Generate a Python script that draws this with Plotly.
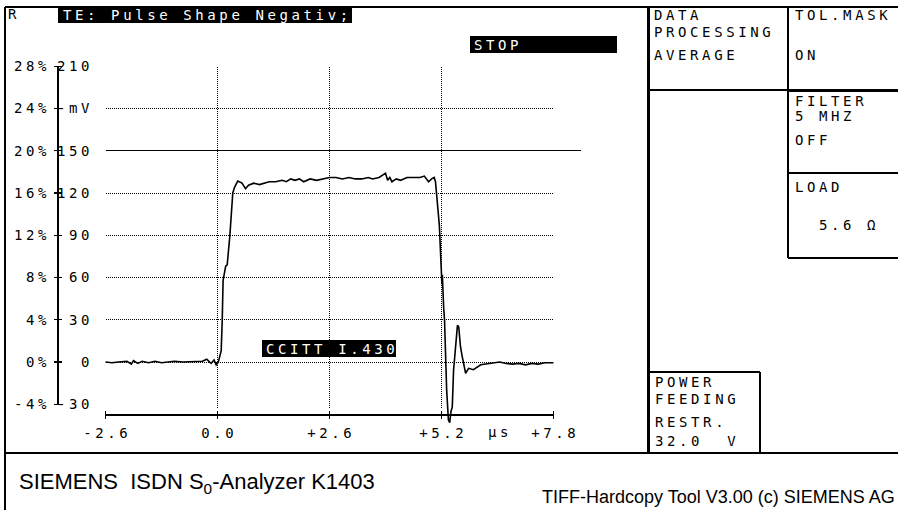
import plotly.graph_objects as go

# ---------------- data ----------------
t_us = [-2.6, -2.45, -2.3, -2.1, -2.0, -1.95, -1.85, -1.75, -1.6, -1.45, -1.3, -1.15,
        -1.0, -0.8, -0.6, -0.45, -0.35, -0.25, -0.15, -0.08, -0.03, 0.02, 0.086, 0.11,
        0.13, 0.19, 0.225, 0.285, 0.318, 0.355, 0.395, 0.47, 0.57, 0.65, 0.72, 0.84,
        0.975, 1.1, 1.2, 1.35, 1.5, 1.6, 1.7, 1.8, 1.9, 2.0, 2.15, 2.3, 2.45, 2.6,
        2.75, 2.9, 3.05, 3.2, 3.35, 3.5, 3.6, 3.75, 3.85, 3.9, 3.95, 4.0, 4.05, 4.15,
        4.25, 4.4, 4.55, 4.7, 4.8, 4.9, 4.97, 5.03, 5.06, 5.08, 5.11, 5.13, 5.15,
        5.20, 5.21, 5.22, 5.23, 5.24, 5.25, 5.27, 5.29, 5.32, 5.36, 5.39, 5.42, 5.45,
        5.48, 5.53, 5.57, 5.60, 5.64, 5.68, 5.72, 5.76, 5.83, 5.94, 6.11, 6.25, 6.4,
        6.55, 6.7, 6.85, 7.0, 7.15, 7.3, 7.45, 7.6, 7.7, 7.8]
v_mV = [0, -0.5, 0, 0.5, -1.5, 1, -1, 0.5, -0.5, 0.5, -0.5, 0,
        0.5, 0, 0, 0, 0.5, 2, -1, 1.5, -2, 0, 8, 30,
        58, 68, 69, 89, 102, 120, 124, 128.5, 127, 123, 125.5, 127,
        126, 127, 128, 128, 129, 128, 130, 129, 130, 128, 130, 129, 130, 131,
        131, 130, 131, 130, 130, 131, 130, 131, 133, 134, 129, 131, 128, 130,
        129, 131, 131, 131, 132, 128, 130, 131, 128, 120, 106, 104, 97,
        65, 55, 62, 45, 52, 39, 30, 7, -20, -41, -43, -35, -32,
        -6, 11, 26, 25, 11, 4, -2, -8, -4.5, -5.5, -2, -1.5, -1,
        0, -1, -1.5, -1, -2, -1, -1.5, -0.5, -0.5, -0.5]

X_TICKS = [-2.6, 0.0, 2.6, 5.2, 7.8]
X_LABELS = ["-2.6", "0.0", "+2.6", "+5.2", "+7.8"]
Y_TICKS = [210, 180, 150, 120, 90, 60, 30, 0, -30]
MV_LABELS = ["210", "-mV", "150", "120", "\u00a090", "\u00a060", "\u00a030", "\u00a0\u00a00", "-30"]
PCT_LABELS = ["28%", "24%", "20%", "16%", "12%", "8%", "4%", "0%", "-4%"]
GRID_X = [0.0, 2.6, 5.2]
GRID_Y_DOT = [180, 120, 90, 60, 30, 0]
MASK_LEVEL = [150]

# ---------------- layout helpers ----------------
W, H = 898, 510
PX_PER_US = 112 / 2.6
PX_PER_MV = 42.25 / 30
X0_PX, Y0_PX = 217.5, 362          # pixel of t=0, v=0
XR = [-X0_PX / PX_PER_US, (W - X0_PX) / PX_PER_US]
YR = [-(H - Y0_PX) / PX_PER_MV, Y0_PX / PX_PER_MV]

def px(x):
    return x / W

def py(y):
    return 1 - y / H

MONO = "DejaVu Sans Mono"
FS = 14

fig = go.Figure()
fig.add_trace(go.Scatter(x=t_us, y=v_mV, mode="lines",
                         line=dict(color="black", width=1.6),
                         hoverinfo="skip", showlegend=False))
# carrier for the percent axis (invisible)
fig.add_trace(go.Scatter(x=[X_TICKS[0]] * len(Y_TICKS), y=Y_TICKS, yaxis="y2",
                         mode="markers", marker=dict(opacity=0, size=1),
                         hoverinfo="skip", showlegend=False))

shapes = []
def line(x0, y0, x1, y1, w=1.5, xref="paper", yref="paper", dash="solid"):
    shapes.append(dict(type="line", x0=x0, y0=y0, x1=x1, y1=y1, xref=xref, yref=yref,
                       line=dict(color="black", width=w, dash=dash)))

def box(x0, y0, x1, y1):
    shapes.append(dict(type="rect", x0=px(x0), x1=px(x1), y0=py(y0), y1=py(y1),
                       xref="paper", yref="paper", fillcolor="black",
                       line=dict(width=0), layer="below"))

# gridlines
for g in GRID_X:
    line(g, Y_TICKS[-1] - 3, g, Y_TICKS[0], w=1, xref="x", yref="y", dash="1px,1px")
for g in GRID_Y_DOT:
    line(X_TICKS[0], g, X_TICKS[-1], g, w=1, xref="x", yref="y", dash="1px,1px")
for g in MASK_LEVEL:
    line(X_TICKS[0], g, 8.43, g, w=1.3, xref="x", yref="y")

# y axis line and ticks
YAX_PX = 58
line(px(YAX_PX), Y_TICKS[-1], px(YAX_PX), Y_TICKS[0], w=1.6, yref="y")
for v in Y_TICKS:
    line(px(YAX_PX - 4), v, px(YAX_PX + 4), v, w=1.3, yref="y")
# x axis line and ticks
XAX_PX = 415
line(X_TICKS[0], py(XAX_PX), X_TICKS[-1], py(XAX_PX), w=1.6, xref="x")
for t in X_TICKS:
    line(t, py(XAX_PX - 4), t, py(XAX_PX + 4), w=1.3, xref="x")

# frame
line(px(5), py(7), px(898), py(7), w=2)
line(px(5), py(7), px(5), py(510), w=1.5)
line(px(5), py(453), px(898), py(453), w=1.5)
line(px(648), py(7), px(648), py(453), w=3)
line(px(788), py(7), px(788), py(173), w=2.5)
line(px(788), py(173), px(788), py(258), w=1.5)
line(px(648), py(90), px(788), py(90), w=1.3)
line(px(788), py(90), px(898), py(90), w=3)
line(px(788), py(173), px(898), py(173), w=2.5)
line(px(788), py(258), px(898), py(258), w=1.3)
line(px(648), py(372), px(760), py(372), w=1.3)
line(px(760), py(372), px(760), py(453), w=1.3)

# black label boxes
box(58, 7, 352, 23)
box(470, 36, 617, 53)
box(262, 340, 396, 357)

annotations = []
def text(x, y, s, color="black", size=FS, family=MONO, xanchor="left"):
    annotations.append(dict(x=px(x), y=py(y), xref="paper", yref="paper", text=s,
                            showarrow=False, xanchor=xanchor, yanchor="middle",
                            font=dict(family=family, size=size, color=color)))

text(6, 14, "R")
text(61, 15, "TE: Pulse Shape Negativ;", color="white")
text(472, 45, "STOP", color="white")
text(264, 349, "CCITT I.430", color="white")
annotations.append(dict(x=6.48, y=py(432), xref="x", yref="paper", text="µs",
                        showarrow=False, xanchor="center", yanchor="middle",
                        font=dict(family=MONO, size=FS, color="black")))

text(652, 15, "DATA")
text(652, 32, "PROCESSING")
text(652, 55, "AVERAGE")
text(793, 15, "TOL.MASK")
text(793, 55, "ON")
text(793, 101, "FILTER")
text(793, 116, "5 MHZ")
text(793, 140, "OFF")
text(793, 187, "LOAD")
text(817, 225, "5.6 Ω")
text(653, 382, "POWER")
text(653, 399, "FEEDING")
text(653, 422, "RESTR.")
text(653, 441, "32.0\u00a0\u00a0V")

text(17, 483, "SIEMENS\u00a0\u00a0ISDN S<sub>0</sub>-Analyzer K1403",
     size=22, family="Liberation Sans Narrow, Liberation Sans, Arial")
text(897, 497, "TIFF-Hardcopy Tool V3.00 (c) SIEMENS AG",
     size=18, family="Liberation Sans Narrow, Liberation Sans, Arial", xanchor="right")

fig.update_layout(
    width=W, height=H, autosize=False,
    margin=dict(l=0, r=0, t=0, b=0),
    paper_bgcolor="white", plot_bgcolor="white",
    shapes=shapes, annotations=annotations,
    xaxis=dict(domain=[0, 1], range=XR, fixedrange=True, showgrid=False, zeroline=False,
               showline=False, anchor="free", position=py(XAX_PX),
               tickmode="array", tickvals=X_TICKS, ticktext=X_LABELS, ticks="",
               ticklabelstandoff=8, tickfont=dict(family=MONO, size=FS, color="black")),
    yaxis=dict(domain=[0, 1], range=YR, fixedrange=True, showgrid=False, zeroline=False,
               showline=False, anchor="free", position=px(YAX_PX), side="left",
               tickmode="array", tickvals=Y_TICKS, ticktext=MV_LABELS, ticks="",
               ticklabelposition="inside", ticklabelstandoff=-5,
               tickfont=dict(family=MONO, size=FS, color="black")),
    yaxis2=dict(domain=[0, 1], range=YR, fixedrange=True, showgrid=False, zeroline=False,
                showline=False, anchor="free", position=px(YAX_PX), side="left",
                overlaying="y", tickmode="array", tickvals=Y_TICKS, ticktext=PCT_LABELS,
                ticks="", ticklabelposition="outside", ticklabelstandoff=12,
                tickfont=dict(family=MONO, size=FS, color="black")),
)

post = """
document.body.style.margin = '0';
document.body.style.padding = '0';
var gd = document.getElementById('{plot_id}');
var S = 3.6;
gd.querySelectorAll('text').forEach(function(t){
  var ff = t.style.fontFamily || '';
  if (ff.indexOf('Mono') < 0) return;
  var b0 = t.getBBox();
  t.style.letterSpacing = S + 'px';
  var b1 = t.getBBox();
  var mode = t.closest('.annotation') ? 'start' : (t.getAttribute('text-anchor') || 'start');
  var dx;
  if (mode === 'start') dx = b0.x - b1.x;
  else if (mode === 'end') dx = (b0.x + b0.width) - (b1.x + b1.width) + S;
  else dx = (b0.x + b0.width / 2) - (b1.x + b1.width / 2) + S / 2;
  var x = parseFloat(t.getAttribute('x') || '0');
  t.setAttribute('x', x + dx);
});
gd.querySelectorAll('.shapelayer path').forEach(function(p){
  p.style.shapeRendering = 'crispEdges';
});
"""
fig.write_html("out.html", post_script=post, config={"displayModeBar": False})
